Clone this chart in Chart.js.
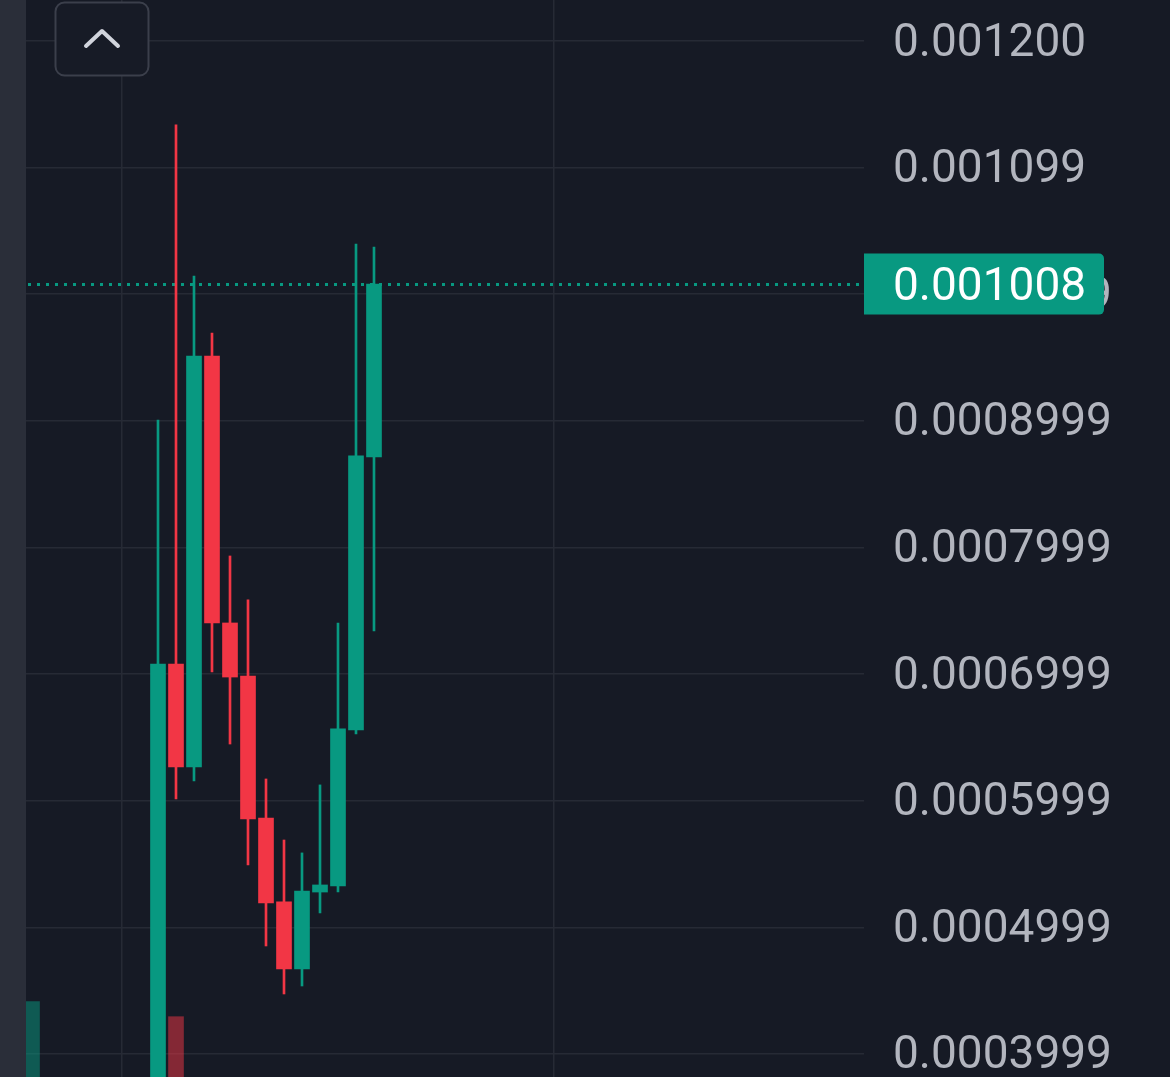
<!DOCTYPE html>
<html>
<head>
<meta charset="utf-8">
<style>
  html, body { margin: 0; padding: 0; background: #161a25; }
  #wrap { width: 1170px; height: 1077px; }
</style>
<script src="https://cdn.jsdelivr.net/npm/chart.js@4.4.1/dist/chart.umd.min.js"></script>
</head>
<body>
<div id="wrap"><canvas id="chart" width="1170" height="1077"></canvas></div>
<script>
// candle data, oldest first (x = candle index)
const opens  = [0.000350, 0.000708, 0.0006267, 0.0009512, 0.0007404, 0.0006985, 0.0005864, 0.0005201, 0.0004671, 0.0005279, 0.0005327, 0.0006559, 0.0008715];
const highs  = [0.0009007, 0.0011337, 0.0010144, 0.0009694, 0.0007933, 0.0007586, 0.0006172, 0.000569, 0.0005588, 0.0006125, 0.0007404, 0.0010397, 0.0010373];
const lows   = [0.000340, 0.0006014, 0.0006156, 0.0007017, 0.0006448, 0.0005493, 0.0004853, 0.0004474, 0.0004537, 0.0005114, 0.0005279, 0.0006527, 0.0007341];
const closes = [0.000708, 0.0006267, 0.0009512, 0.0007404, 0.0006977, 0.0005856, 0.0005193, 0.0004671, 0.0005287, 0.0005335, 0.0006567, 0.0008723, 0.001008];

// volume bars that show at the bottom edge
const volumeIndex = [-7, 1];
const volumes = [70, 56];
const volumeUp = [true, false];

const tickValues = [0.0004, 0.0005, 0.0006, 0.0007, 0.0008, 0.0009, 0.0010, 0.0011, 0.0012];
const tickLabels = ['0.0003999', '0.0004999', '0.0005999', '0.0006999', '0.0007999', '0.0008999', '0.0009999', '0.001099', '0.001200'];
const timeGrid = [-2, 22];
const lastPrice = 0.001008;
const lastPriceLabel = '0.001008';

const UP = '#089981';
const DOWN = '#f23645';
const FONT = '46px Roboto';

const candleColors = closes.map((c, i) => c >= opens[i] ? UP : DOWN);

const bodies = opens.map((o, i) => ({ x: i, y: [o, closes[i]] }));
const wicks = lows.map((l, i) => ({ x: i, y: [l, highs[i]] }));
const volumeBars = volumeIndex.map((x, i) => ({ x: x, y: volumes[i] }));

const chrome = {
    id: 'chrome',
    beforeDraw(chart) {
        const ctx = chart.ctx;
        ctx.save();
        ctx.fillStyle = '#161a25';
        ctx.fillRect(0, 0, chart.width, chart.height);
        ctx.restore();
    },
    beforeDatasetsDraw(chart) {
        // dotted last price line
        const ctx = chart.ctx;
        const area = chart.chartArea;
        const y = Math.round(chart.scales.y.getPixelForValue(lastPrice));
        ctx.save();
        ctx.fillStyle = UP;
        for (let x = 28; x < area.right; x += 9) {
            ctx.fillRect(x, y - 1, 3, 3);
        }
        ctx.restore();
    },
    afterDraw(chart) {
        const ctx = chart.ctx;
        const area = chart.chartArea;
        ctx.save();

        // left side panel
        ctx.fillStyle = '#2a2e39';
        ctx.fillRect(0, 0, 26, chart.height);

        // collapse button
        ctx.beginPath();
        ctx.roundRect(55.5, 2.5, 93, 73, 9);
        ctx.fillStyle = '#171b26';
        ctx.fill();
        ctx.lineWidth = 2;
        ctx.strokeStyle = '#3b3f4b';
        ctx.stroke();
        ctx.beginPath();
        ctx.moveTo(86, 46);
        ctx.lineTo(102, 31);
        ctx.lineTo(118, 46);
        ctx.lineWidth = 4;
        ctx.lineCap = 'round';
        ctx.lineJoin = 'round';
        ctx.strokeStyle = '#d1d4dc';
        ctx.stroke();

        // last price label
        const y = chart.scales.y.getPixelForValue(lastPrice);
        ctx.beginPath();
        ctx.roundRect(area.right, y - 30.5, 240, 61, [0, 5, 5, 0]);
        ctx.fillStyle = UP;
        ctx.fill();
        ctx.fillStyle = '#ffffff';
        ctx.font = FONT;
        ctx.textAlign = 'left';
        ctx.textBaseline = 'middle';
        ctx.fillText(lastPriceLabel, area.right + 29, y + 4);
        ctx.restore();
    }
};

new Chart(document.getElementById('chart'), {
    type: 'bar',
    data: {
        datasets: [{
            label: 'body',
            data: bodies,
            backgroundColor: candleColors,
            barThickness: 15,
            grouped: false,
            borderWidth: 0
        }, {
            label: 'wick',
            data: wicks,
            backgroundColor: candleColors,
            barThickness: 2,
            grouped: false,
            borderWidth: 0
        }, {
            label: 'volume',
            data: volumeBars,
            yAxisID: 'vol',
            backgroundColor: volumeUp.map(u => u ? 'rgba(8,153,129,0.5)' : 'rgba(242,54,69,0.5)'),
            barThickness: 15,
            grouped: false,
            borderWidth: 0
        }]
    },
    options: {
        responsive: false,
        animation: false,
        layout: { padding: 0 },
        plugins: {
            legend: { display: false },
            tooltip: { enabled: false }
        },
        scales: {
            x: {
                type: 'linear',
                offset: false,
                min: -8.7778,
                max: 39.2222,
                position: 'bottom',
                afterBuildTicks: s => { s.ticks = timeGrid.map(v => ({ value: v })); },
                afterFit: s => { s.height = 0; s.paddingLeft = 0; s.paddingRight = 0; },
                ticks: { display: false },
                grid: { color: '#262a35', lineWidth: 1.5, drawTicks: false, offset: false },
                border: { display: false }
            },
            y: {
                position: 'right',
                min: 0.00038183,
                max: 0.00123238,
                afterBuildTicks: s => { s.ticks = tickValues.map(v => ({ value: v })); },
                afterFit: s => { s.width = 306; s.paddingTop = 0; s.paddingBottom = 0; },
                ticks: {
                    padding: 29,
                    labelOffset: 3,
                    color: '#b2b5be',
                    font: { family: 'Roboto', size: 46 },
                    callback: (v, i) => tickLabels[i]
                },
                grid: { color: '#262a35', lineWidth: 1.5, drawTicks: false },
                border: { display: false }
            },
            vol: {
                display: false,
                min: 0,
                max: 1000
            }
        }
    },
    plugins: [chrome]
});
</script>
</body>
</html>
